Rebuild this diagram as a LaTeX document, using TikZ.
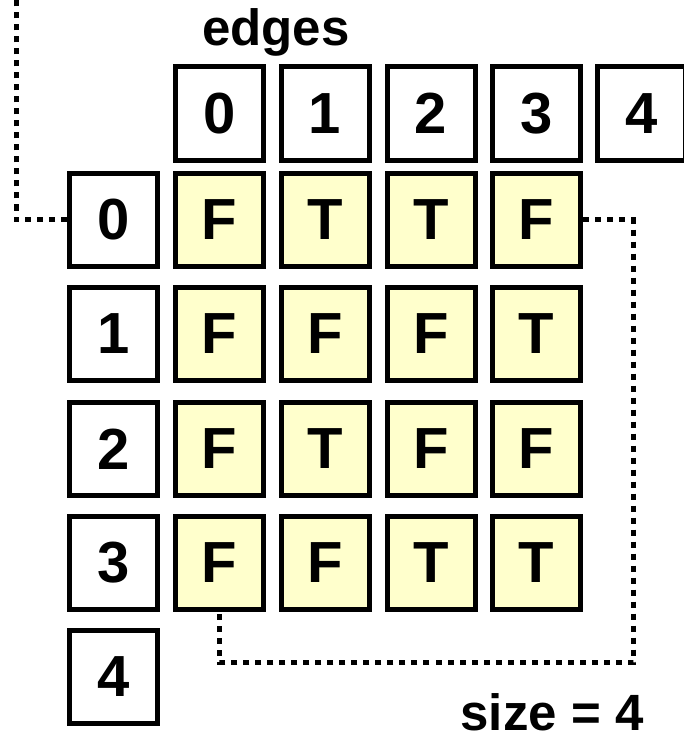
\documentclass[tikz,border=0pt]{standalone}
\usepackage{fontspec}
\setmainfont{Liberation Sans}
\definecolor{cellfill}{HTML}{FFFFCC}
\begin{document}
\begin{tikzpicture}[x=1bp,y=-1bp,
  box/.style={draw=black, line width=5bp, minimum width=88bp, minimum height=93bp, inner sep=0pt,
    font=\fontsize{58bp}{58bp}\selectfont\bfseries},
  cell/.style={box, fill=cellfill},
  lbl/.style={font=\fontsize{51bp}{51bp}\selectfont\bfseries, inner sep=0pt, anchor=base},
  dotline/.style={line width=5bp, dash pattern=on 6bp off 6bp}]
\clip (0,0) rectangle (684,734);
% header labels
\node[lbl] (edges) at (276,46) {edges};
\node[lbl] (size) at (552,730) {size = 4};
% top row (edges indices)
\node[box] (T0) at (219.5,113.5) {0};
\node[box] (T1) at (325,113.5) {1};
\node[box] (T2) at (431,113.5) {2};
\node[box] (T3) at (536.5,113.5) {3};
\node[box] (T4) at (641.5,113.5) {4};
% left column
\node[box] (L0) at (113.5,219.5) {0};
\node[box] (L1) at (113.5,333.5) {1};
\node[box] (L2) at (113.5,449) {2};
\node[box] (L3) at (113.5,562.5) {3};
\node[box] (L4) at (113.5,677) {4};
% cells
\node[cell] (C00) at (219.5,219.5) {F};
\node[cell] (C01) at (325,219.5) {T};
\node[cell] (C02) at (431,219.5) {T};
\node[cell] (C03) at (536.5,219.5) {F};
\node[cell] (C10) at (219.5,333.5) {F};
\node[cell] (C11) at (325,333.5) {F};
\node[cell] (C12) at (431,333.5) {F};
\node[cell] (C13) at (536.5,333.5) {T};
\node[cell] (C20) at (219.5,449) {F};
\node[cell] (C21) at (325,449) {T};
\node[cell] (C22) at (431,449) {F};
\node[cell] (C23) at (536.5,449) {F};
\node[cell] (C30) at (219.5,563) {F};
\node[cell] (C31) at (325,563) {F};
\node[cell] (C32) at (431,563) {T};
\node[cell] (C33) at (536.5,563) {T};
% dotted connectors
\coordinate (tl) at (16,-10);
\coordinate (br) at (633,662);
\draw[dotline] (L0.west) -| (tl);
\draw[dotline] (C03.east) -| (br) -| (C30.south);
\end{tikzpicture}
\end{document}
